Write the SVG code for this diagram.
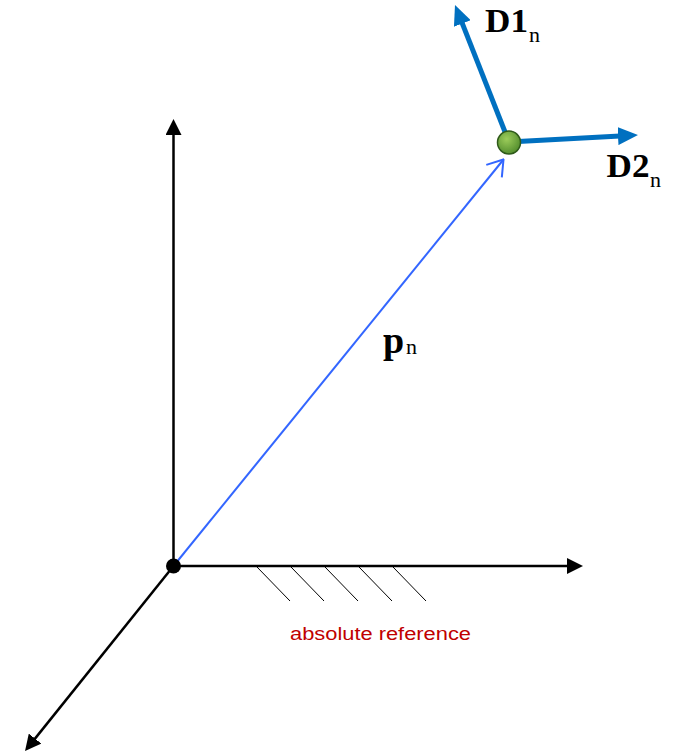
<svg xmlns="http://www.w3.org/2000/svg" width="684" height="753" viewBox="0 0 684 753">
  <defs>
    <style>
      .axis { stroke: #000; stroke-width: 2.5; fill: none; }
      .hatch { stroke: #000; stroke-width: 1; }
      .dir { stroke: #0070C0; stroke-width: 5; fill: none; }
      .pos { stroke: #3366FF; stroke-width: 2; fill: none; }
      .lbl { font-family: "Liberation Serif", "Times New Roman", serif; font-weight: bold; fill: #000; }
      .sub { font-family: "Liberation Serif", "Times New Roman", serif; font-weight: normal; fill: #000; }
      .ref { font-family: "Liberation Sans", Arial, sans-serif; fill: #C00000; }
    </style>
    <marker id="arrowBlack" viewBox="0 0 16 16" markerWidth="16" markerHeight="16" markerUnits="userSpaceOnUse" refX="2" refY="8" orient="auto">
      <path d="M0,0 L16,8 L0,16 z" fill="#000"/>
    </marker>
    <marker id="arrowBlue" viewBox="0 0 20 18" markerWidth="20" markerHeight="18" markerUnits="userSpaceOnUse" refX="2" refY="9" orient="auto">
      <path d="M0,0 L20,9 L0,18 z" fill="#0070C0"/>
    </marker>
    <marker id="arrowOpen" viewBox="-1 -1 17 22" markerWidth="17" markerHeight="22" markerUnits="userSpaceOnUse" refX="15" refY="10" orient="auto">
      <path d="M0,0 L15,10 L0,20" fill="none" stroke="#3366FF" stroke-width="2"/>
    </marker>
    <radialGradient id="greenBall" cx="0.4" cy="0.35" r="0.7">
      <stop offset="0" stop-color="#9ccc5a"/>
      <stop offset="1" stop-color="#4f8a2b"/>
    </radialGradient>
  </defs>

  <g id="connectors">
    <line class="axis" x1="173.5" y1="566" x2="173.5" y2="133" marker-end="url(#arrowBlack)"/>
    <line class="axis" x1="173.5" y1="566" x2="569" y2="566" marker-end="url(#arrowBlack)"/>
    <line class="axis" x1="173.5" y1="566" x2="33.8" y2="740.1" marker-end="url(#arrowBlack)"/>
    <line class="pos" x1="173.5" y1="566" x2="503.5" y2="159.5" marker-end="url(#arrowOpen)"/>
    <line class="dir" x1="509" y1="142" x2="461.6" y2="21.7" marker-end="url(#arrowBlue)"/>
    <line class="dir" x1="509" y1="142" x2="620" y2="136" marker-end="url(#arrowBlue)"/>
  </g>

  <g id="absolute-reference">
    <line class="hatch" x1="257" y1="567" x2="290" y2="601"/>
    <line class="hatch" x1="291" y1="567" x2="324" y2="601"/>
    <line class="hatch" x1="325" y1="567" x2="358" y2="601"/>
    <line class="hatch" x1="359" y1="567" x2="392" y2="601"/>
    <line class="hatch" x1="393" y1="567" x2="426" y2="601"/>
    <text class="ref" x="290" y="640" font-size="17.5" textLength="181" lengthAdjust="spacingAndGlyphs">absolute reference</text>
  </g>

  <g id="origin">
    <circle cx="173.5" cy="566" r="7.5" fill="#000"/>
  </g>

  <g id="point">
    <circle cx="509" cy="142.5" r="11.5" fill="url(#greenBall)" stroke="#2f5a1a" stroke-width="1.5"/>
  </g>

  <g id="label-D1">
    <text class="lbl" x="485" y="32" font-size="33" textLength="43" lengthAdjust="spacingAndGlyphs">D1</text>
    <text class="sub" x="529" y="42" font-size="22">n</text>
  </g>

  <g id="label-D2">
    <text class="lbl" x="606.5" y="177" font-size="33" textLength="43" lengthAdjust="spacingAndGlyphs">D2</text>
    <text class="sub" x="650" y="187" font-size="22">n</text>
  </g>

  <g id="label-p">
    <text class="lbl" x="383" y="353" font-size="38">p</text>
    <text class="sub" x="406" y="354" font-size="22">n</text>
  </g>
</svg>
